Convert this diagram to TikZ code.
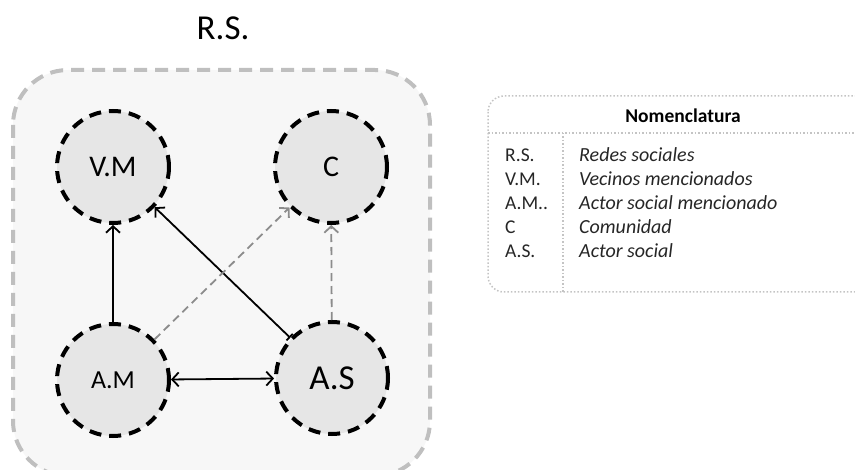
\documentclass[tikz,border=0pt]{standalone}
\usepackage{fontspec}
\setmainfont{Carlito}
\usetikzlibrary{arrows.meta}

\definecolor{panelfill}{HTML}{F7F7F7}
\definecolor{paneledge}{HTML}{BFBFBF}
\definecolor{actorfill}{HTML}{E6E6E6}
\definecolor{weakgray}{HTML}{8C8C8C}
\definecolor{nomedge}{HTML}{C4C4C4}

\begin{document}
\begin{tikzpicture}[x=1pt,y=-1pt,
  actor/.style={circle, draw=black, fill=actorfill, line width=4pt,
    dash pattern=on 12pt off 8pt, minimum size=112pt, inner sep=0pt},
  link/.style={line width=1.8pt, -{Straight Barb[length=6.5pt,width=14pt]}},
  weak/.style={link, draw=weakgray, dash pattern=on 8pt off 5pt},
  abbr/.style={anchor=base west, inner sep=0pt, font=\fontsize{19.5}{22}\selectfont, text=black!85},
  meaning/.style={anchor=base west, inner sep=0pt, font=\fontsize{20}{22}\selectfont\itshape, text=black!85}]

\useasboundingbox (0,0) rectangle (855,470);
\clip (0,0) rectangle (855,470);

% panel of the social network
\draw[fill=panelfill, draw=paneledge, line width=4pt, rounded corners=55pt,
  dash pattern=on 13pt off 8pt] (13,70) rectangle (430,476);
\node[inner sep=0pt, anchor=base] (title) at (223,40) {\fontsize{35}{38}\selectfont R.S.};

% actors
\node[actor] (vm) at (113,167) {\fontsize{30}{34}\selectfont V.M};
\node[actor] (c)  at (331,167) {\fontsize{30}{34}\selectfont C};
\node[actor] (am) at (113,380) {\fontsize{26}{30}\selectfont A.M};
\node[actor] (as) at (332,378) {\fontsize{35}{38}\selectfont A.S};

% links
\draw[link] (am) -- (vm);
\draw[link, {Bar[width=9pt]}-{Straight Barb[length=6.5pt,width=14pt]}] (as) -- (vm);
\draw[link, {Straight Barb[length=6.5pt,width=14pt]}-{Straight Barb[length=6.5pt,width=14pt]}] (am) -- (as);
\draw[weak] (am) -- (c);
\draw[weak] (as) -- (c);

% nomenclature
\draw[draw=nomedge, line width=1.5pt, dotted, rounded corners=16pt]
  (488,96) rectangle (876,292);
\draw[draw=nomedge, line width=1.5pt, dotted] (488,133) -- (876,133);
\draw[draw=nomedge, line width=1.5pt, dotted] (563,133) -- (563,292);
\node[anchor=base, inner sep=0pt, font=\fontsize{19.5}{22}\selectfont\bfseries] (nomtitle) at (683,123) {Nomenclatura};

\node[abbr] (k1) at (505,162) {R.S.};
\node[abbr] (k2) at (505,186) {V.M.};
\node[abbr] (k3) at (505,210) {A.M..};
\node[abbr] (k4) at (505,234) {C};
\node[abbr] (k5) at (505,258) {A.S.};
\node[meaning] (d1) at (579,162) {Redes sociales};
\node[meaning] (d2) at (579,186) {Vecinos mencionados};
\node[meaning] (d3) at (579,210) {Actor social mencionado};
\node[meaning] (d4) at (579,234) {Comunidad};
\node[meaning] (d5) at (579,258) {Actor social};
\end{tikzpicture}
\end{document}
